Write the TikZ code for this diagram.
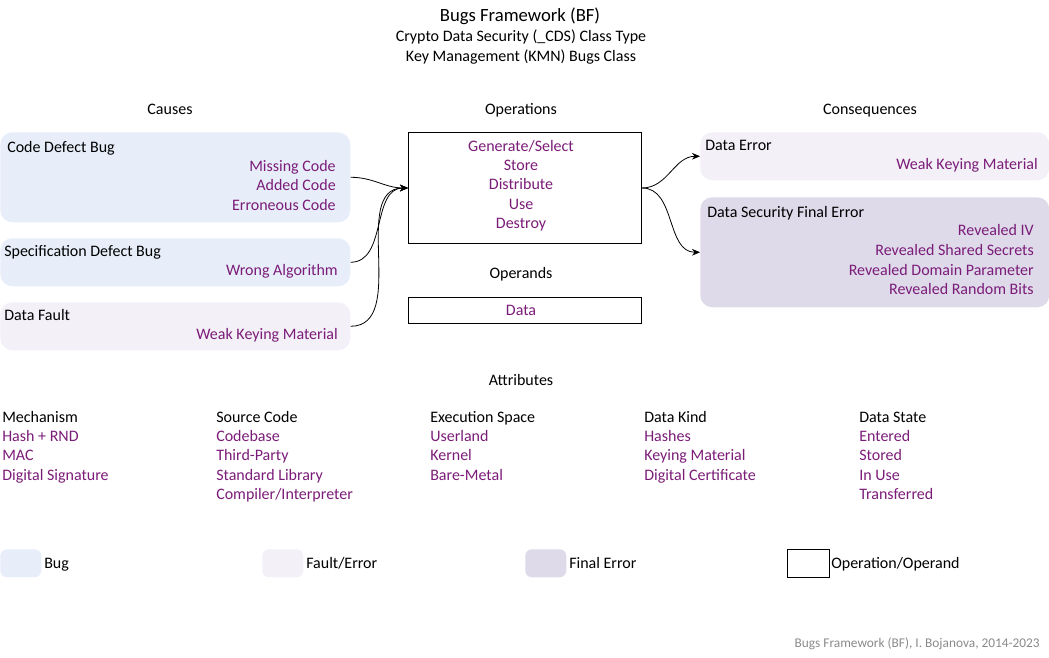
\documentclass[tikz,border=0pt]{standalone}
\usepackage{fontspec}
\setmainfont{Carlito}
\usetikzlibrary{arrows.meta}
\definecolor{bugfill}{HTML}{E7EEFA}
\definecolor{faultfill}{HTML}{F3F0F7}
\definecolor{finalfill}{HTML}{DEDAEA}
\definecolor{purp}{HTML}{7B1C78}
\definecolor{foot}{HTML}{8A8A8A}
\tikzset{
  box/.style={anchor=north west, inner sep=0pt, rounded corners=9pt, draw=none},
  bugbox/.style={box, fill=bugfill},
  faultbox/.style={box, fill=faultfill},
  finalbox/.style={box, fill=finalfill},
  opbox/.style={anchor=north west, inner sep=0pt, draw=black, fill=white, line width=0.75pt},
  txt/.style={inner sep=0pt, text height=8pt, text depth=1pt, font=\fontsize{12}{14}\selectfont},
  ttl/.style={txt, anchor=west},
  itm/.style={txt, anchor=east, text=purp},
  ctr/.style={txt, anchor=center},
  citm/.style={ctr, text=purp},
  aitm/.style={txt, anchor=west, text=purp},
  conn/.style={-{Stealth[length=6pt,width=5pt]}, line width=0.6pt},
}
\begin{document}
\begin{tikzpicture}[x=0.75pt,y=-0.75pt]
\useasboundingbox (0,0) rectangle (1049,657);
% titles
\node[ctr, font=\fontsize{14}{16}\selectfont, text height=9.5pt, text depth=1.5pt] (t1) at (520,16) {Bugs Framework (BF)};
\node[ctr] (t2) at (521,37) {Crypto Data Security (\_CDS) Class Type};
\node[ctr] (t3) at (521,57) {Key Management (KMN) Bugs Class};
% headers
\node[ctr] (hc) at (170,110) {Causes};
\node[ctr] (ho) at (521,110) {Operations};
\node[ctr] (hq) at (870,110) {Consequences};
\node[ctr] (hd) at (521,274) {Operands};
\node[ctr] (ha) at (521,381) {Attributes};
% causes
\node[bugbox, minimum width=262.5pt, minimum height=67.5pt] (cdb) at (0,132) {};
\node[ttl] (cdbt) at (7,148) {Code Defect Bug};
\node[itm] (cdb1) at (336,167) {Missing Code};
\node[itm] (cdb2) at (336,186) {Added Code};
\node[itm] (cdb3) at (336,206) {Erroneous Code};
\node[bugbox, minimum width=262.5pt, minimum height=36pt] (sdb) at (0,238) {};
\node[ttl] (sdbt) at (4,252) {Specification Defect Bug};
\node[itm] (sdb1) at (338,271) {Wrong Algorithm};
\node[faultbox, minimum width=262.5pt, minimum height=36pt] (df) at (0,302) {};
\node[ttl] (dft) at (4,316) {Data Fault};
\node[itm] (df1) at (338,335) {Weak Keying Material};
% operations
\node[opbox, minimum width=174.75pt, minimum height=83.25pt] (ops) at (408,132) {};
\node[citm] (o1) at (521,147) {Generate/Select};
\node[citm] (o2) at (521,166) {Store};
\node[citm] (o3) at (521,185) {Distribute};
\node[citm] (o4) at (521,205) {Use};
\node[citm] (o5) at (521,224) {Destroy};
\node[opbox, minimum width=174.75pt, minimum height=19.5pt] (opd) at (408,297) {};
\node[citm] (od1) at (521,311) {Data};
% consequences
\node[faultbox, minimum width=261.75pt, minimum height=36pt] (de) at (700,132) {};
\node[ttl] (det) at (705,146) {Data Error};
\node[itm] (de1) at (1038,165) {Weak Keying Material};
\node[finalbox, minimum width=261.75pt, minimum height=82.5pt] (dsf) at (700,197) {};
\node[ttl] (dsft) at (707,213) {Data Security Final Error};
\node[itm] (dsf1) at (1034,231) {Revealed IV};
\node[itm] (dsf2) at (1034,251) {Revealed Shared Secrets};
\node[itm] (dsf3) at (1034,271) {Revealed Domain Parameter};
\node[itm] (dsf4) at (1034,290) {Revealed Random Bits};
% connectors
\draw[conn] (cdb.east) to[out=0,in=180] (ops.west);
\draw[conn] (sdb.east) to[out=0,in=180] (ops.west);
\draw[conn] (df.east) to[out=0,in=180] (ops.west);
\draw[conn] (ops.east) to[out=0,in=180] (de.west);
\draw[conn] (ops.east) to[out=0,in=180] (dsf.west);
% attributes
\node[ttl] (a1) at (2,418) {Mechanism};
\node[aitm] (a11) at (2,437) {Hash + RND};
\node[aitm] (a12) at (2,456) {MAC};
\node[aitm] (a13) at (2,476) {Digital Signature};
\node[ttl] (a2) at (216,418) {Source Code};
\node[aitm] (a21) at (216,437) {Codebase};
\node[aitm] (a22) at (216,456) {Third-Party};
\node[aitm] (a23) at (216,476) {Standard Library};
\node[aitm] (a24) at (216,495) {Compiler/Interpreter};
\node[ttl] (a3) at (430,418) {Execution Space};
\node[aitm] (a31) at (430,437) {Userland};
\node[aitm] (a32) at (430,456) {Kernel};
\node[aitm] (a33) at (430,476) {Bare-Metal};
\node[ttl] (a4) at (644,418) {Data Kind};
\node[aitm] (a41) at (644,437) {Hashes};
\node[aitm] (a42) at (644,456) {Keying Material};
\node[aitm] (a43) at (644,476) {Digital Certificate};
\node[ttl] (a5) at (859,418) {Data State};
\node[aitm] (a51) at (859,437) {Entered};
\node[aitm] (a52) at (859,456) {Stored};
\node[aitm] (a53) at (859,476) {In Use};
\node[aitm] (a54) at (859,495) {Transferred};
% legend
\node[bugbox, rounded corners=5pt, minimum width=30.75pt, minimum height=21pt] (l1) at (0,549) {};
\node[ttl] (l1t) at (44,564) {Bug};
\node[faultbox, rounded corners=5pt, minimum width=30.75pt, minimum height=21pt] (l2) at (262,549) {};
\node[ttl] (l2t) at (306,564) {Fault/Error};
\node[finalbox, rounded corners=5pt, minimum width=30.75pt, minimum height=21pt] (l3) at (525,549) {};
\node[ttl] (l3t) at (569,564) {Final Error};
\node[opbox, minimum width=31.5pt, minimum height=21pt] (l4) at (787,549) {};
\node[ttl] (l4t) at (831,564) {Operation/Operand};
% footer
\node[anchor=east, inner sep=0pt, text=foot, text height=7pt, text depth=1pt, font=\fontsize{10}{12}\selectfont] (ft) at (1040,643) {Bugs Framework (BF), I. Bojanova, 2014-2023};
\end{tikzpicture}
\end{document}
